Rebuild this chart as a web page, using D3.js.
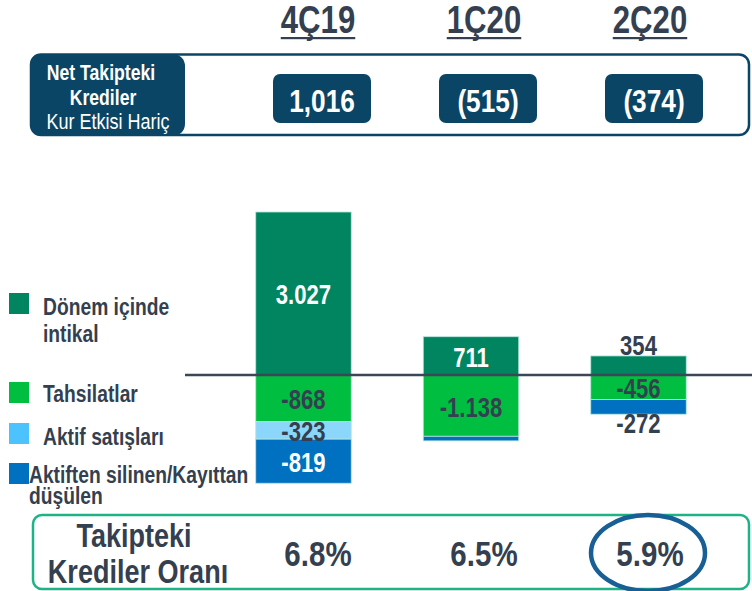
<!DOCTYPE html>
<html>
<head>
<meta charset="utf-8">
<script src="https://cdn.jsdelivr.net/npm/d3@7"></script>
<style>
  body { margin: 0; background: #fff; }
  svg { display: block; }
</style>
</head>
<body>
<div id="chart"></div>
<script>
const quarters = ["4Ç19", "1Ç20", "2Ç20"];
const netNpl = ["1,016", "(515)", "(374)"];
const nplRatio = ["6.8%", "6.5%", "5.9%"];

const seriesNames = ["Dönem içinde intikal", "Tahsilatlar", "Aktif satışları", "Aktiften silinen/Kayıttan düşülen"];
const inflows = [3027, 711, 354];
const collections = [-868, -1138, -456];
const assetSales = [-323, 0, 0];
const writeOffs = [-819, -85, -272];

const width = 752, height = 591;
const font = "'Liberation Sans', Arial, sans-serif";
const squeeze = 0.82; // narrow look
const dark = "#343f4f";
const navy = "#0b4566";

const colors = {
    "Dönem içinde intikal": "#008561",
    "Tahsilatlar": "#00bf40",
    "Aktif satışları": "#8ad7fb",
    "Aktiften silinen/Kayıttan düşülen": "#0070c0"
};
const legendColors = ["#008561", "#00bf40", "#4cc3ff", "#0070c0"];
const whiteLabel = new Set(["Dönem içinde intikal", "Aktiften silinen/Kayıttan düşülen"]);

const svg = d3.select("#chart")
    .append("svg")
    .attr("width", width)
    .attr("height", height)
    .attr("viewBox", [0, 0, width, height]);

// condensed text helper
function txt(g, s, x, y, size, opts = {}) {
    return g.append("text")
        .attr("transform", `translate(${x},${y}) scale(${squeeze},1)`)
        .attr("text-anchor", opts.anchor || "middle")
        .attr("font-family", font)
        .attr("font-weight", opts.weight || "bold")
        .attr("font-size", size)
        .attr("fill", opts.fill || dark)
        .text(s);
}

// Scales
const x = d3.scaleBand()
    .domain(quarters)
    .range([190, 752])
    .paddingInner(0.43)
    .paddingOuter(0.3925);

const y = d3.scaleLinear()
    .domain([-2000, 3100])
    .range([375 + 2000 * 0.05385, 375 - 3100 * 0.05385]);

const col = d3.scalePoint()
    .domain(quarters)
    .range([318, 650]);

// Headers
quarters.forEach(q => {
    const t = txt(svg, q, col(q), 33, 38);
    const w = t.node().getComputedTextLength() * squeeze;
    svg.append("rect")
        .attr("x", col(q) - w / 2)
        .attr("y", 37)
        .attr("width", w)
        .attr("height", 2.2)
        .attr("fill", dark);
});

// Net NPL box
svg.append("rect")
    .attr("x", 31).attr("y", 54.5)
    .attr("width", 718).attr("height", 80.5)
    .attr("rx", 10)
    .attr("fill", "none")
    .attr("stroke", navy)
    .attr("stroke-width", 2.5);

svg.append("rect")
    .attr("x", 30).attr("y", 54)
    .attr("width", 155).attr("height", 82)
    .attr("rx", 12)
    .attr("fill", navy);

txt(svg, "Net Takipteki", 101, 80, 21.5, { fill: "#fff" });
txt(svg, "Krediler", 103, 105, 21.5, { fill: "#fff" });
txt(svg, "Kur Etkisi Hariç", 108, 129, 22, { fill: "#fff", weight: "normal" });

netNpl.forEach((v, i) => {
    const cx = col(quarters[i]) + 4;
    svg.append("rect")
        .attr("x", cx - 49).attr("y", 74)
        .attr("width", 98).attr("height", 49)
        .attr("rx", 7)
        .attr("fill", navy);
    txt(svg, v, cx, 112, 32, { fill: "#fff" });
});

// Stacked bars
const seriesValues = [inflows, collections, assetSales, writeOffs];
const segments = [];
quarters.forEach((q, i) => {
    let pos = 0, neg = 0;
    seriesValues.forEach((vals, s) => {
        const v = vals[i];
        if (!v) return;
        let y0, y1;
        if (v > 0) { y0 = pos; y1 = pos + v; pos = y1; }
        else { y0 = neg + v; y1 = neg; neg = y0; }
        segments.push({ q, name: seriesNames[s], value: v, y0, y1 });
    });
});

svg.append("g")
    .selectAll("rect")
    .data(segments)
    .join("rect")
    .attr("x", d => x(d.q))
    .attr("width", x.bandwidth())
    .attr("y", d => y(d.y1))
    .attr("height", d => y(d.y0) - y(d.y1))
    .attr("fill", d => colors[d.name])
    .attr("stroke", "#b8e6dc")
    .attr("stroke-width", 0.8);

// Labels
const labels = svg.append("g");
segments.forEach(d => {
    const h = y(d.y0) - y(d.y1);
    if (h < 8) return;
    const outside = d.value > 0 ? h < 20 : h < 16;
    const cx = x(d.q) + x.bandwidth() / 2;
    let ly;
    if (outside) ly = d.value > 0 ? y(d.y1) - 1 : y(d.y0) + 19;
    else ly = (y(d.y0) + y(d.y1)) / 2 + 11;
    const fill = (!outside && whiteLabel.has(d.name)) ? "#fff" : dark;
    const s = d3.format(",")(d.value).replace(/,/g, ".").replace("−", "-");
    txt(labels, s, cx, ly, 27, { fill });
});

// Zero line
svg.append("line")
    .attr("x1", 185).attr("x2", 752)
    .attr("y1", y(0)).attr("y2", y(0))
    .attr("stroke", "#3b4656")
    .attr("stroke-width", 2.5);

// Legend
const legendRows = [
    { lines: ["Dönem içinde", "intikal"], y: 293, tx: 43, ty: 315 },
    { lines: ["Tahsilatlar"], y: 382, tx: 43, ty: 402 },
    { lines: ["Aktif satışları"], y: 423, tx: 43, ty: 445 },
    { lines: ["Aktiften silinen/Kayıttan", "düşülen"], y: 463, tx: 29, ty: 483 }
];
const legend = svg.append("g");
legendRows.forEach((r, i) => {
    legend.append("rect")
        .attr("x", 9).attr("y", r.y)
        .attr("width", 20).attr("height", 21)
        .attr("fill", legendColors[i]);
    r.lines.forEach((l, j) => {
        txt(legend, l, r.tx, r.ty + j * (i === 3 ? 21 : 27), 23.5, { anchor: "start" });
    });
});

// NPL ratio box
svg.append("rect")
    .attr("x", 33).attr("y", 515)
    .attr("width", 716).attr("height", 74)
    .attr("rx", 9)
    .attr("fill", "none")
    .attr("stroke", "#1db386")
    .attr("stroke-width", 2.5);

txt(svg, "Takipteki", 134, 547, 33);
txt(svg, "Krediler Oranı", 138, 583, 33);

nplRatio.forEach((v, i) => {
    txt(svg, v, col(quarters[i]), 566, 36);
});

svg.append("ellipse")
    .attr("cx", col(quarters[2]) - 2)
    .attr("cy", 553)
    .attr("rx", 57)
    .attr("ry", 38)
    .attr("fill", "none")
    .attr("stroke", "#175f95")
    .attr("stroke-width", 4.5);
</script>
</body>
</html>
